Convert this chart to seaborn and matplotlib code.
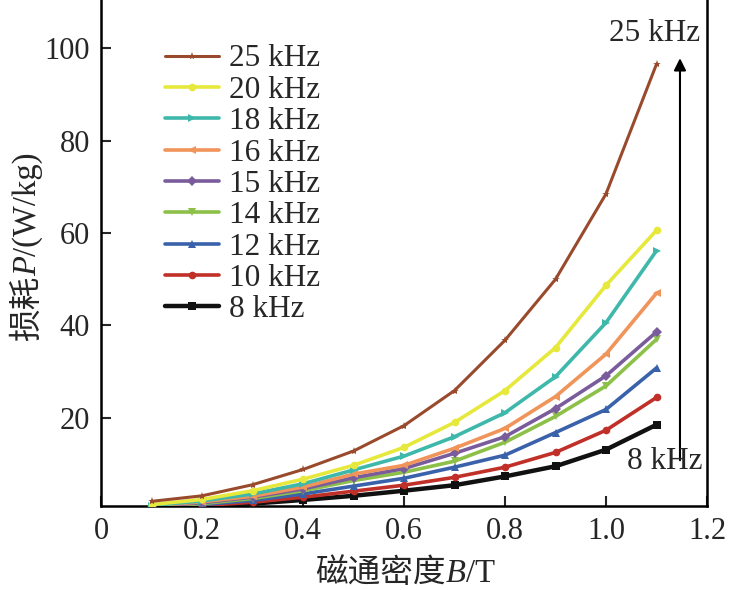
import numpy as np
import pandas as pd
import seaborn as sns
import matplotlib
matplotlib.use("Agg")
import matplotlib.pyplot as plt

B = [0.1, 0.2, 0.3, 0.4, 0.5, 0.6, 0.7, 0.8, 0.9, 1.0, 1.1]

labels = ["25 kHz", "20 kHz", "18 kHz", "16 kHz", "15 kHz", "14 kHz", "12 kHz", "10 kHz", "8 kHz"]
p25 = [1.9, 3.1, 5.5, 8.8, 12.8, 18.3, 25.9, 36.8, 50.0, 68.5, 96.6]
p20 = [1.2, 2.3, 4.2, 6.7, 9.7, 13.6, 19.0, 25.9, 35.2, 48.7, 60.6]
p18 = [1.0, 2.0, 3.5, 5.7, 8.7, 11.7, 15.9, 21.1, 28.9, 40.6, 56.2]
p16 = [0.9, 1.8, 3.0, 5.0, 7.8, 9.7, 13.4, 17.7, 24.6, 33.8, 47.0]
p15 = [0.8, 1.6, 2.8, 4.6, 7.0, 9.0, 12.3, 15.9, 22.0, 29.1, 38.6]
p14 = [0.7, 1.4, 2.5, 4.2, 6.4, 8.2, 10.6, 14.7, 20.3, 26.9, 37.0]
p12 = [0.6, 1.2, 2.1, 3.5, 5.2, 6.9, 9.3, 11.9, 16.8, 21.8, 30.8]
p10 = [0.5, 1.0, 1.7, 2.8, 4.1, 5.4, 7.1, 9.3, 12.5, 17.3, 24.4]
p8 = [0.4, 0.8, 1.4, 2.2, 3.1, 4.2, 5.4, 7.3, 9.5, 13.1, 18.5]

series = [p25, p20, p18, p16, p15, p14, p12, p10, p8]
colors = ["#9A4A2C", "#E6E83C", "#3EB8AA", "#F0945A", "#7A5C9C", "#8CC048", "#3A62AA", "#C03028", "#111111"]
markers = ["*", "o", ">", "<", "D", "v", "^", "o", "s"]
msizes = [6, 5.5, 6, 6, 5.5, 6, 6, 5.5, 6]
lwidths = [2.2, 2.6, 2.6, 2.6, 2.6, 2.6, 2.6, 2.6, 3.2]

sns.set_style("ticks")
SERIF = ['Liberation Serif', 'DejaVu Serif']
CJK = ['Noto Sans CJK SC', 'Liberation Serif']
plt.rcParams['font.family'] = SERIF

fig = plt.figure(figsize=(7.3, 5.9), dpi=100)
ax = fig.add_axes([101/730, 1-505.5/590, (707-101)/730, 505.5/590])

frames = []
for lab, vals in zip(labels, series):
    frames.append(pd.DataFrame({"B": B, "P": vals, "f": lab}))
df = pd.concat(frames, ignore_index=True)

for i in range(len(labels) - 1, -1, -1):
    sub = df[df["f"] == labels[i]]
    sns.lineplot(data=sub, x="B", y="P", ax=ax, color=colors[i], marker=markers[i],
                 markersize=msizes[i], markeredgewidth=0, linewidth=lwidths[i],
                 label=labels[i], zorder=3)

FSL = 22.5
handles, labs = ax.get_legend_handles_labels()
leg = ax.legend(handles[::-1], labs[::-1], loc="upper left", bbox_to_anchor=(0.105, 0.912),
                frameon=False, fontsize=FSL, handlelength=1.75, handletextpad=0.3,
                labelspacing=0.075, borderaxespad=0, borderpad=0)

ax.set_xlim(0, 1.2)
ax.set_ylim(1, 110.5)
ax.set_xticks([0, 0.2, 0.4, 0.6, 0.8, 1.0, 1.2])
ax.set_xticklabels(["0", "0.2", "0.4", "0.6", "0.8", "1.0", "1.2"])
ax.set_yticks([20, 40, 60, 80, 100])
ax.tick_params(direction="in", length=7, width=1.5, labelsize=22, pad=8)
for s in ["left", "bottom", "right"]:
    ax.spines[s].set_linewidth(1.8)
    ax.spines[s].set_color("black")
ax.spines["top"].set_visible(False)
ax.set_xlabel("")
ax.set_ylabel("")

ax.annotate("", xy=(1.1465, 98.5), xytext=(1.1465, 10.2),
            arrowprops=dict(arrowstyle="-|>", color="black", lw=1.5, mutation_scale=18))
ax.text(1.097, 103.2, "25 kHz", fontsize=FSL, ha="center", va="center")
ax.text(1.117, 10.6, "8 kHz", fontsize=FSL, ha="center", va="center")

# composite axis labels (CJK + italic variable)
FS = 23.5
xl_parts = [("磁通密度", CJK, "normal"), ("B", SERIF, "italic"), ("/T", SERIF, "normal")]
yl_parts = [("损耗", CJK, "normal"), ("P", SERIF, "italic"), ("/(W/kg)", SERIF, "normal")]

xt = [fig.text(0, 0, s, family=f, style=st, fontsize=FS, ha="left", va="baseline")
      for s, f, st in xl_parts]
yt = [fig.text(0, 0, s, family=f, style=st, fontsize=FS, ha="left", va="baseline",
               rotation=90, rotation_mode="anchor") for s, f, st in yl_parts]
fig.canvas.draw()
r = fig.canvas.get_renderer()
W, H = fig.bbox.width, fig.bbox.height

xw = [t.get_window_extent(r).width for t in xt]
x0 = 405 - sum(xw) / 2
base_y = 590 - 582
pos = x0
for t, w in zip(xt, xw):
    t.set_position((pos / W, base_y / H))
    pos += w

yh = [t.get_window_extent(r).height for t in yt]
y0 = (590 - 247) - sum(yh) / 2
base_x = 36
pos = y0
for t, h in zip(yt, yh):
    t.set_position((base_x / W, pos / H))
    pos += h

fig.savefig("out.png", dpi=100)
